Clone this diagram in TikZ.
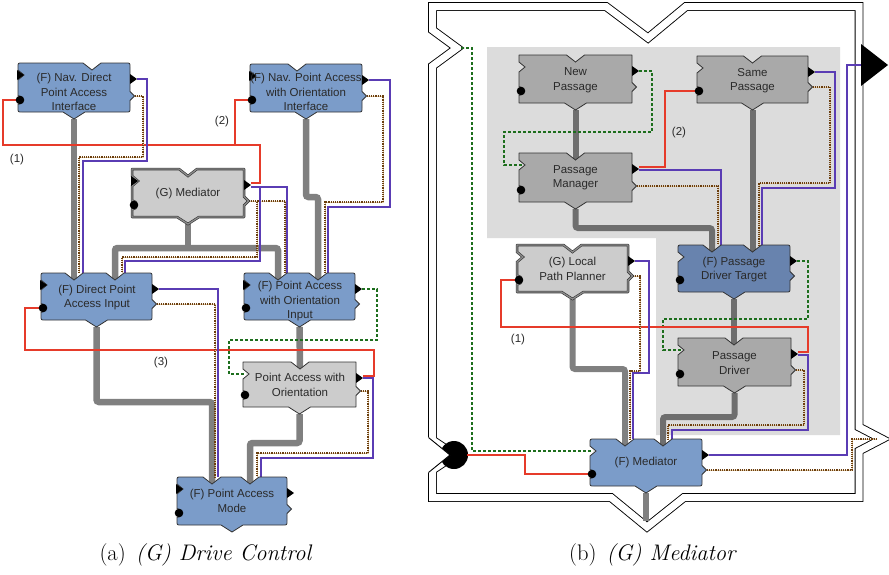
\documentclass[tikz,border=0pt]{standalone}
\usepackage{fontspec}
\newfontfamily\boxfont{Liberation Sans}
\usetikzlibrary{calc}

\definecolor{blueF}{HTML}{7B9CC9}
\definecolor{blueFd}{HTML}{6883AE}
\definecolor{grayG}{HTML}{CCCCCC}
\definecolor{grayD}{HTML}{A9A9A9}
\definecolor{regionC}{HTML}{DCDCDC}
\definecolor{edgeC}{HTML}{333333}
\definecolor{busA}{HTML}{808080}
\definecolor{busB}{HTML}{6E6E6E}
\definecolor{redL}{HTML}{E63B2A}
\definecolor{purL}{HTML}{5A3CB4}
\definecolor{brnL}{HTML}{6B3E0E}
\definecolor{tanL}{HTML}{E3CBA5}
\definecolor{grnL}{HTML}{1D6E1D}
\definecolor{txtC}{HTML}{2A2A2A}

\pgfdeclarelayer{back}
\pgfdeclarelayer{wires}
\pgfsetlayers{back,wires,main}

\tikzset{
  corner r/.store in=\bcr, corner r=0.3,
  blkF/.style={fill=blueF, draw=edgeC, line width=0.8pt, corner r=4},
  blkFd/.style={blkF, fill=blueFd},
  blkG/.style={fill=grayG, draw=edgeC, line width=0.6pt, double=black!45, double distance=1.3pt, corner r=0.3},
  blkL/.style={fill=grayG, draw=edgeC, line width=0.8pt, corner r=0.3},
  blkD/.style={fill=grayD, draw=edgeC, line width=0.8pt, corner r=0.3},
  btxt/.style={font=\boxfont\fontsize{11.5}{14.5}\selectfont, align=center, text=txtC, inner sep=0pt},
  lbl/.style={font=\boxfont\fontsize{11.5}{13}\selectfont, text=txtC, inner sep=0pt},
  capt/.style={font=\fontsize{22.5}{26}\selectfont, inner sep=0pt},
  busa/.style={draw=busA, line width=6.5pt, rounded corners=2.5pt},
  busb/.style={draw=busB, line width=6pt, rounded corners=2.5pt},
  wr/.style={draw=redL, line width=1.2pt},
  wp/.style={draw=purL, line width=1.2pt},
  wb/.style={draw=brnL, line width=1.4pt, dash pattern=on 1.2pt off 1pt, preaction={draw=tanL, solid}},
  wg/.style={draw=grnL, line width=1.3pt, dash pattern=on 3pt off 2pt},
}

% block: style, name, left, top, right, bottom, top notch x list, filled input triangle (1/0)
\newcommand\blk[8]{%
  \pgfmathsetmacro\bcx{(#3+#5)/2}%
  \pgfmathsetmacro\blt{#4+12}%
  \pgfmathsetmacro\blb{#6-12}%
  \pgfmathsetmacro\brt{#4+16}%
  \pgfmathsetmacro\brb{#6-16}%
  \draw[#1] (#3,{#4+\bcr}) .. controls (#3,#4) .. ({#3+\bcr},#4)
    \foreach \n in {#7} { -- ({\n-9},#4) -- (\n,{#4+7}) -- ({\n+9},#4) }
    -- ({#5-\bcr},#4) .. controls (#5,#4) .. (#5,{#4+\bcr})
    -- (#5,{\brb-4.5}) -- ({#5+4.5},\brb) -- (#5,{\brb+4.5})
    -- (#5,{#6-\bcr}) .. controls (#5,#6) .. ({#5-\bcr},#6)
    -- ({\bcx+11},#6) -- (\bcx,{#6+7}) -- ({\bcx-11},#6)
    -- ({#3+\bcr},#6) .. controls (#3,#6) .. (#3,{#6-\bcr})
    -- (#3,{\blb+4.5}) .. controls ({#3+6},{\blb+4.5}) and ({#3+6},{\blb-4.5}) .. (#3,{\blb-4.5})
    -- (#3,{\blt+5}) -- ({#3+6},\blt) -- (#3,{\blt-5}) -- cycle;
  \fill[black] (#5,{\brt-5}) -- ({#5+7},\brt) -- (#5,{\brt+5}) -- cycle;
  \fill[black] ({#3+2},\blb) circle[radius=4.3pt];
  \ifnum#8=1 \fill[black] ({#3-1},{\blt-5}) -- ({#3+6},\blt) -- ({#3-1},{\blt+5}) -- cycle;\fi
  \coordinate (#2-lt) at ({#3+3},\blt);
  \coordinate (#2-lb) at (#3,\blb);
  \coordinate (#2-rt) at ({#5+7},\brt);
  \coordinate (#2-rb) at ({#5+4.5},\brb);
  \coordinate (#2-T) at (\bcx,#4);
  \coordinate (#2-tip) at (\bcx,{#6+7});
  \foreach \n [count=\k] in {#7} {\coordinate (#2-n\k) at (\n,{#4+7});}
}

\begin{document}
\begin{tikzpicture}[x=1pt,y=-1pt]
\useasboundingbox (0,0) rectangle (889,574);

% ---------- blocks of (a) Drive Control ----------
\blk{blkF}{A1}{18}{63}{130}{112}{92}{1}
\blk{blkF}{A2}{250}{64}{362}{112}{297}{1}
\blk{blkG}{A3}{132}{169}{244}{217}{188}{1}
\blk{blkF}{A4}{41}{273}{152}{320}{74,115}{1}
\blk{blkF}{A5}{244}{273}{355}{320}{278,318}{1}
\blk{blkL}{A6}{243}{362}{356}{407}{300}{0}
\blk{blkF}{A7}{177}{477}{287}{525}{212,250}{1}

\node[btxt] (A1) at (74,92) {(F) Nav. Direct\\Point Access\\Interface};
\node[btxt] (A2) at (306,92) {(F) Nav. Point Access\\with Orientation\\Interface};
\node[btxt] (A3) at (188,194) {(G) Mediator};
\node[btxt] (A4) at (97,297.5) {(F) Direct Point\\Access Input};
\node[btxt] (A5) at (300,301.5) {(F) Point Access\\with Orientation\\Input};
\node[btxt] (A6) at (300,385) {Point Access with\\Orientation};
\node[btxt] (A7) at (232,501) {(F) Point Access\\Mode};

% ---------- blocks of (b) Mediator ----------
\blk{blkD}{B1}{519}{55}{632}{103}{575.5}{0}
\blk{blkD}{B2}{519}{153}{632}{202}{575.5}{0}
\blk{blkD}{B3}{697}{56}{808}{103}{752.5}{0}
\blk{blkG}{B4}{517}{245}{628}{292}{572.5}{0}
\blk{blkFd}{B5}{678}{245}{790}{292}{712,752.5}{0}
\blk{blkD}{B6}{678}{338}{791}{386}{734}{0}
\blk{blkF}{B7}{590}{439}{702}{486}{625,663}{0}

\node[btxt] (B1) at (575.5,80) {New\\Passage};
\node[btxt] (B2) at (575.5,177.5) {Passage\\Manager};
\node[btxt] (B3) at (752.5,80.5) {Same\\Passage};
\node[btxt] (B4) at (572.5,269) {(G) Local\\Path Planner};
\node[btxt] (B5) at (734,269.5) {(F) Passage\\Driver Target};
\node[btxt] (B6) at (734.5,363) {Passage\\Driver};
\node[btxt] (B7) at (646,463) {(F) Mediator};

% ---------- enclosing component frame and shaded region ----------
\begin{pgfonlayer}{back}
\fill[white] (0,0) rectangle (889,574);
\fill[regionC] (487,47) -- (840,47) -- (840,435) -- (656,435) -- (656,238) -- (487,238) -- cycle;
\draw[draw=black, line width=0.9pt, double=white, double distance=7pt]
  (432.5,6.5) -- (606,6.5) -- (648,38) -- (686,6.5) -- (859,6.5) -- (859,427) -- (882,439)
  -- (859,451) -- (859,497.5) -- (684,497.5) -- (647,527) -- (611,497.5) -- (432.5,497.5)
  -- (432.5,470) -- (455,455) -- (432.5,440) -- (432.5,66) -- (457,48) -- (432.5,30) -- cycle;
\fill[black] (454,455) circle[radius=14pt];
\fill[white] (427,436) -- (450,455) -- (427,474) -- cycle;
\draw[line width=0.9pt] (428.5,437.5) -- (450,455) -- (428.5,472.5);
\fill[black] (861,44) -- (888,65) -- (861,86) -- cycle;
\end{pgfonlayer}
\coordinate (F-lt) at (461,48);
\coordinate (F-lb) at (467,455);
\coordinate (F-rt) at (861,65);
\coordinate (F-rb) at (876,439);
\coordinate (F-bot) at (646,521);

\begin{pgfonlayer}{wires}
% ---------- (a) thick data-flow links ----------
\coordinate (J1) at (188,248);
\draw[busa] (A1-tip) -- (A4-n1);
\draw[busa] (A3-tip) -- (J1);
\draw[busa] (A4-n2) |- (J1) -| (A5-n1);
\draw[busa] (A2-tip) -- ++(0,78) -| (A5-n2);
\draw[busa] (A5-tip) -- (A6-n1);
\draw[busa] (A4-tip) -- ++(0,75) -| (A7-n1);
\draw[busa] (A6-tip) -- ++(0,29) -| (A7-n2);

% ---------- (a) thin links ----------
\draw[wr] (A1-lb) -| (3,145) -- (260,145) |- ($(A3-rt)+(0,-2)$);
\draw[wr] (A2-lb) -| (235,145) -- (260,145);
\draw[wr] (A4-lb) -| (25,350) -- (374,350) |- ($(A6-rt)+(0,-2)$);

\draw[wb] (A1-rb) -| (143,157) -| (79,0 |- A4-T);
\draw[wp] (A1-rt) -| (147,161) -| (83,0 |- A4-T);
\draw[wb] (A2-rb) -| (383,202) -| (325,0 |- A5-T);
\draw[wp] (A2-rt) -| (390,207) -| (328,0 |- A5-T);
\draw[wb] (A3-rb) -| (257,257) -| (122,0 |- A4-T);
\draw[wb] (A3-rb) -| (285,0 |- A5-T);
\draw[wp] ($(A3-rt)+(0,2)$) -| (260,261) -| (125,0 |- A4-T);
\draw[wp] ($(A3-rt)+(0,2)$) -| (287,0 |- A5-T);
\draw[wb] (A4-rb) -| (215,0 |- A7-T);
\draw[wp] (A4-rt) -| (218,0 |- A7-T);
\draw[wb] (A6-rb) -| (368,453) -| (257,0 |- A7-T);
\draw[wp] (A6-rt) -| (373,458) -| (261,0 |- A7-T);
\draw[wg] (A5-rt) -| (377,340) -- (229,340) |- (A6-lt);

% ---------- (b) thick data-flow links ----------
\draw[busb] (B1-tip) -- (B2-n1);
\draw[busb] (B2-tip) -- ++(0,19) -| (B5-n1);
\draw[busb] (B3-tip) -- (B5-n2);
\draw[busb] (B5-tip) -- (B6-n1);
\draw[busb] (B6-tip) -- ++(0,24) -| (B7-n2);
\draw[busa, line width=6pt] (B4-tip) -- ++(0,70) -| (B7-n1);
\draw[busa, line width=6pt] (B7-tip) -- (F-bot);

% ---------- (b) thin links ----------
\draw[wg] (F-lt) -- (472,48) |- (B7-lt);
\draw[wg] (B1-rt) -| (652,132) -- (504,132) |- (B2-lt);
\draw[wg] (B5-rt) -| (808,319) -- (663,319) |- (B6-lt);

\draw[wr] ($(B2-rt)+(0,-2)$) -| (665,0 |- B3-lb) -- (B3-lb);
\draw[wr] (B4-lb) -| (501,327) -- (808,327) |- ($(B6-rt)+(0,-2)$);
\draw[wr] (F-lb) -| (525,0 |- B7-lb) -- (B7-lb);

\draw[wb] (B2-rb) -| (718,0 |- B5-T);
\draw[wp] ($(B2-rt)+(0,1)$) -| (721,0 |- B5-T);
\draw[wb] (B3-rb) -| (830,183) -| (759,0 |- B5-T);
\draw[wp] (B3-rt) -| (835,188) -| (762,0 |- B5-T);
\draw[wb] (B4-rb) -| (640,371) -| (630,0 |- B7-T);
\draw[wp] (B4-rt) -| (649,373) -| (633,0 |- B7-T);
\draw[wb] (B6-rb) -| (804,425) -| (668,0 |- B7-T);
\draw[wp] ($(B6-rt)+(0,1)$) -| (808,430) -| (672,0 |- B7-T);
\draw[wb] (B7-rb) -| (852,0 |- F-rb) -- (F-rb);
\draw[wp] (B7-rt) -| (847,0 |- F-rt) -- (F-rt);
\end{pgfonlayer}

% ---------- link labels ----------
\node[lbl] (l1) at (17,160) {(1)};
\node[lbl] (l2) at (222,122) {(2)};
\node[lbl] (l3) at (161,363) {(3)};
\node[lbl] (l4) at (679,133) {(2)};
\node[lbl] (l5) at (518,340) {(1)};

% ---------- captions ----------
\node[capt] (capa) at (206,555) {(a)\hspace{0.45em}\textit{(G) Drive Control}};
\node[capt] (capb) at (653,555) {(b)\hspace{0.45em}\textit{(G) Mediator}};
\end{tikzpicture}
\end{document}
